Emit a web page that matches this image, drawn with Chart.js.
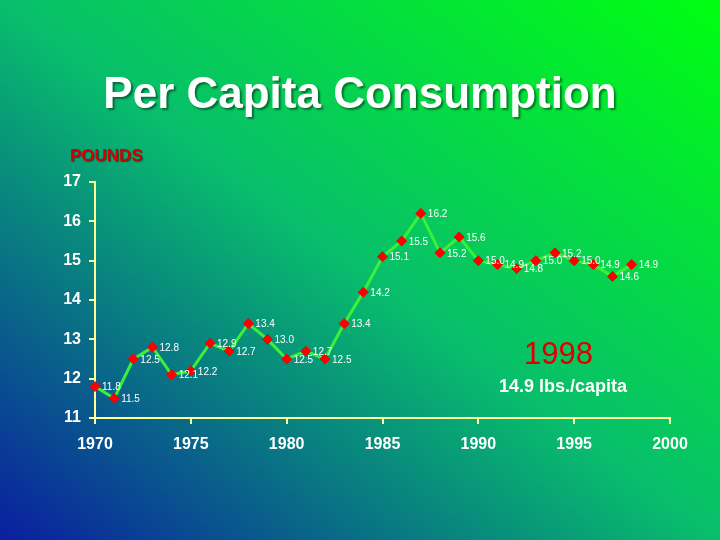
<!DOCTYPE html>
<html>
<head>
<meta charset="utf-8">
<script src="https://cdn.jsdelivr.net/npm/chart.js@4/dist/chart.umd.min.js"></script>
<style>
  html, body { margin: 0; padding: 0; }
  body {
    width: 720px; height: 540px; position: relative; overflow: hidden;
    background: linear-gradient(to top right, #0a1ea0 0%, #08be6c 50%, #00ff10 100%);
    font-family: "Liberation Sans", Arial, sans-serif;
  }
  #chart { position: absolute; left: 0; top: 0; }
  .title {
    position: absolute; left: 0; width: 720px; top: 68px; text-align: center;
    color: #fff; font-size: 44px; font-weight: bold;
    text-shadow: 2px 2px 2px rgba(0,0,0,0.45);
  }
  .units {
    position: absolute; left: 70px; top: 146px; color: #d40000;
    font-size: 17px; font-weight: bold; text-shadow: 1px 1px 1px rgba(0,0,0,0.5);
  }
  .year {
    position: absolute; left: 524px; top: 336px; color: #dd0000; font-size: 31px;
  }
  .note {
    position: absolute; left: 499px; top: 376px; color: #fff; font-size: 18px; font-weight: bold;
  }
</style>
</head>
<body>
<canvas id="chart" width="720" height="540"></canvas>
<div class="title">Per Capita Consumption</div>
<div class="units">POUNDS</div>
<div class="year">1998</div>
<div class="note">14.9 lbs./capita</div>
<script>
// datos
const years = [1970,1971,1972,1973,1974,1975,1976,1977,1978,1979,1980,1981,1982,1983,1984,
  1985,1986,1987,1988,1989,1990,1991,1992,1993,1994,1995,1996,1997,1998];
const pounds = [11.8,11.5,12.5,12.8,12.1,12.2,12.9,12.7,13.4,13.0,12.5,12.7,12.5,13.4,14.2,
  15.1,15.5,16.2,15.2,15.6,15.0,14.9,14.8,15.0,15.2,15.0,14.9,14.6,14.9];
const yTicks = [11,12,13,14,15,16,17];
const xTicks = [1970,1975,1980,1985,1990,1995,2000];

const axisColor = '#ffff99';

// etiquetas de valor junto a cada punto
const pointLabels = {
  id: 'pointLabels',
  afterDatasetsDraw(chart) {
    const ctx = chart.ctx;
    const meta = chart.getDatasetMeta(0);
    ctx.save();
    ctx.font = '10px "Liberation Sans", Arial, sans-serif';
    ctx.fillStyle = '#ffffff';
    ctx.textBaseline = 'middle';
    meta.data.forEach((pt, i) => {
      ctx.fillText(pounds[i].toFixed(1), pt.x + 7, pt.y + 1);
    });
    ctx.restore();
  }
};

new Chart(document.getElementById('chart'), {
  type: 'line',
  data: {
    datasets: [{
      data: years.map((y, i) => ({x: y, y: pounds[i]})),
      borderColor: '#3af03a',
      borderWidth: 3,
      pointStyle: 'rectRot',
      pointRadius: 5,
      pointBackgroundColor: '#ff0000',
      pointBorderColor: '#ee0000',
      pointBorderWidth: 1,
      tension: 0,
      clip: false
    }]
  },
  options: {
    responsive: false,
    animation: false,
    events: [],
    layout: { padding: { left: 0, right: 50, top: 182, bottom: 82 } },
    plugins: { legend: { display: false }, tooltip: { enabled: false } },
    scales: {
      x: {
        type: 'linear', min: 1970, max: 2000,
        afterBuildTicks: s => { s.ticks = xTicks.map(v => ({value: v})); },
        afterFit: s => { s.height = 40; },
        border: { color: axisColor, width: 2 },
        grid: { drawOnChartArea: false, color: axisColor, lineWidth: 2, tickLength: 6 },
        ticks: {
          color: '#ffffff', padding: 11,
          font: { family: '"Liberation Sans", Arial, sans-serif', size: 16, weight: 'bold' },
          callback: v => String(v)
        }
      },
      y: {
        min: 11, max: 17,
        afterBuildTicks: s => { s.ticks = yTicks.map(v => ({value: v})); },
        afterFit: s => { s.width = 95; },
        border: { color: axisColor, width: 2 },
        grid: { drawOnChartArea: false, color: axisColor, lineWidth: 2, tickLength: 6 },
        ticks: {
          color: '#ffffff', padding: 8,
          font: { family: '"Liberation Sans", Arial, sans-serif', size: 16, weight: 'bold' }
        }
      }
    }
  },
  plugins: [pointLabels]
});
</script>
</body>
</html>
